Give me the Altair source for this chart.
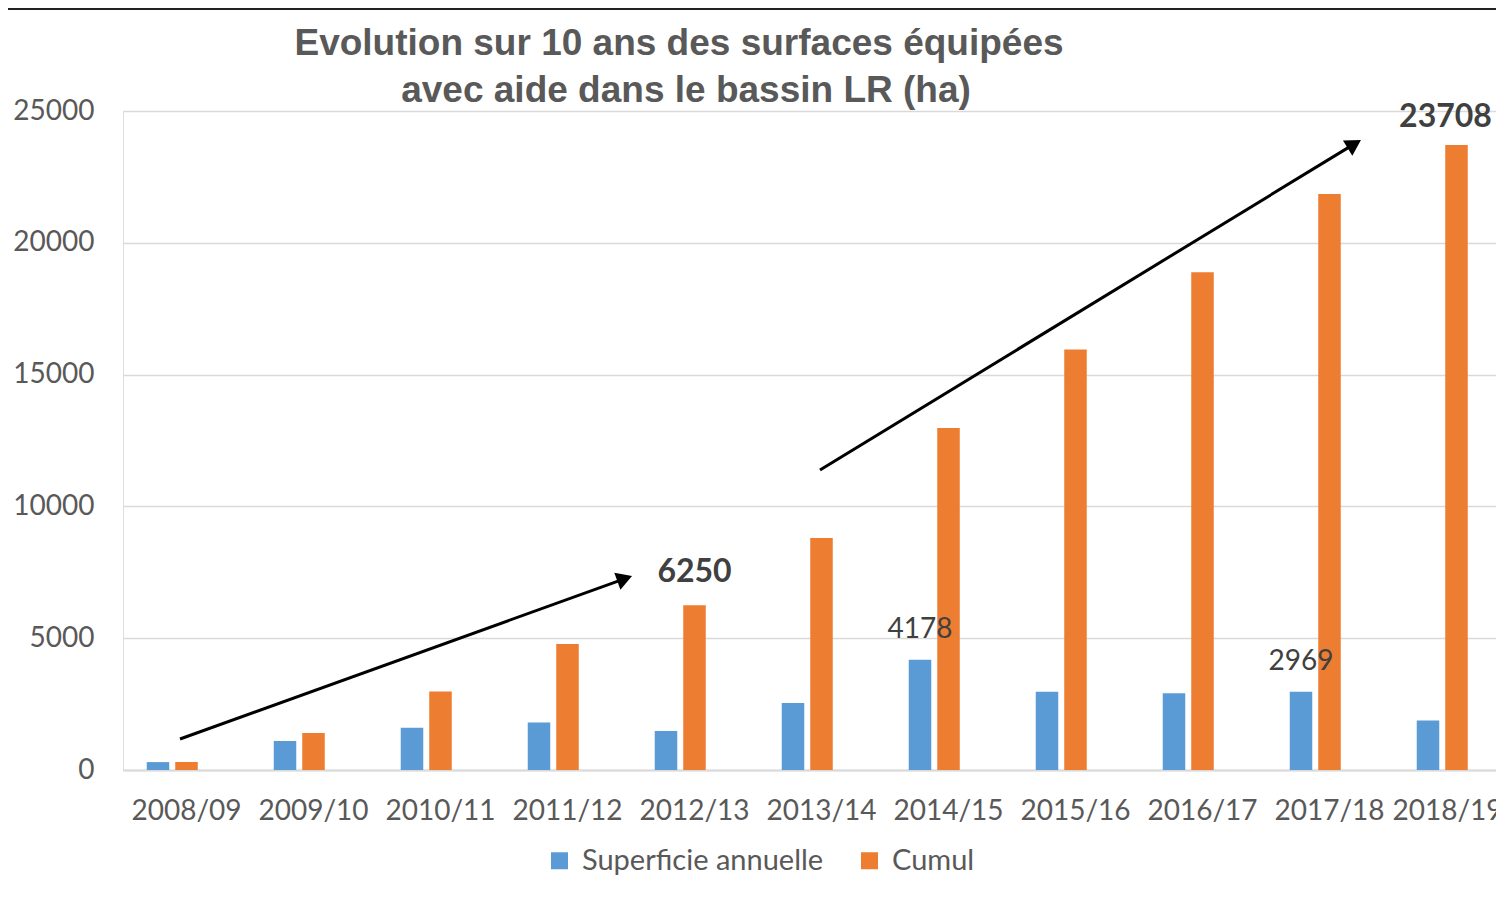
import altair as alt
import pandas as pd

categories = ["2008/09", "2009/10", "2010/11", "2011/12", "2012/13", "2013/14",
              "2014/15", "2015/16", "2016/17", "2017/18", "2018/19"]
annuelle = [300, 1100, 1600, 1800, 1480, 2540, 4178, 2970, 2910, 2969, 1880]
cumul = [300, 1400, 2980, 4780, 6250, 8800, 12978, 15950, 18880, 21850, 23708]
series_names = ["Superficie annuelle", "Cumul"]
colors = ["#5B9BD5", "#ED7D31"]

rows = []
for c, a, k in zip(categories, annuelle, cumul):
    rows.append({"annee": c, "serie": series_names[0], "valeur": a})
    rows.append({"annee": c, "serie": series_names[1], "valeur": k})
df = pd.DataFrame(rows)

# labelled points
lab_plain = pd.DataFrame({
    "annee": ["2014/15", "2017/18"],
    "serie": [series_names[0]] * 2,
    "valeur": [4178, 2969],
    "txt": ["4178", "2969"],
})
lab_bold = pd.DataFrame({
    "annee": ["2012/13"],
    "serie": [series_names[1]],
    "valeur": [6250],
    "txt": ["6250"],
})
lab_bold2 = pd.DataFrame({
    "annee": ["2018/19"],
    "serie": [series_names[1]],
    "valeur": [23708],
    "txt": ["23708"],
})

W, H = 1373, 659
STEP = 127
xscale = alt.Scale(domain=categories, range=[0, STEP * len(categories)],
                   paddingInner=0, paddingOuter=0)
xoff_scale = alt.Scale(domain=series_names + ["_"], paddingInner=0.21, paddingOuter=0.833)
yscale = alt.Scale(domain=[0, 25000], nice=False)

x_enc = alt.X("annee:N", scale=xscale, sort=categories,
              axis=alt.Axis(title=None, labelAngle=0, labelFontSize=28, labelFont="Lato",
                            labelColor="#595959", labelPadding=41, labelBaseline="middle",
                            labelOffset={"condition": {"test": "datum.value == '2018/19'", "value": -9},
                                         "value": 0},
                            ticks=False, tickSize=0, domainColor="#D9D9D9", domainWidth=2,
                            labelOverlap=False, labelFlush=False, labelBound=False, grid=False))
xo_enc = alt.XOffset("serie:N", scale=xoff_scale)
y_enc = alt.Y("valeur:Q", scale=yscale,
              axis=alt.Axis(title=None, values=[0, 5000, 10000, 15000, 20000, 25000], format="d",
                            labelFontSize=28, labelFont="Lato", labelColor="#595959",
                            labelPadding=29, domain=False, ticks=False, tickSize=0,
                            gridColor="#D9D9D9", gridWidth=1.5))

bars = alt.Chart(df).mark_bar(clip=True).encode(
    x=x_enc, xOffset=xo_enc, y=y_enc,
    color=alt.Color("serie:N", scale=alt.Scale(domain=series_names, range=colors),
                    legend=alt.Legend(orient="none", legendX=422, legendY=735,
                                      direction="horizontal", title=None,
                                      symbolType="square", symbolSize=289,
                                      symbolStrokeWidth=0, labelFontSize=29,
                                      labelFont="Lato", labelColor="#595959",
                                      labelLimit=0,
                                      columnPadding=31, labelOffset=8, padding=0)),
)

t_plain = alt.Chart(lab_plain).mark_text(fontSize=28, font="Lato", color="#404040",
                                         baseline="middle", dy=-30).encode(
    x=alt.X("annee:N", scale=xscale, sort=categories), xOffset=xo_enc,
    y=alt.Y("valeur:Q", scale=yscale), text="txt:N")
t_bold = alt.Chart(lab_bold).mark_text(fontSize=32, font="Lato", fontWeight="bold",
                                       color="#404040", baseline="middle", dy=-33).encode(
    x=alt.X("annee:N", scale=xscale, sort=categories), xOffset=xo_enc,
    y=alt.Y("valeur:Q", scale=yscale), text="txt:N")
t_bold2 = alt.Chart(lab_bold2).mark_text(fontSize=32, font="Lato", fontWeight="bold",
                                         color="#404040", baseline="middle", dy=-28,
                                         dx=-11).encode(
    x=alt.X("annee:N", scale=xscale, sort=categories), xOffset=xo_enc,
    y=alt.Y("valeur:Q", scale=yscale), text="txt:N")

one = pd.DataFrame({"k": [0]})

def rule(x1, y1, x2, y2, color="black", width=3):
    return alt.Chart(one).mark_rule(color=color, strokeWidth=width).encode(
        x=alt.value(x1), y=alt.value(y1), x2=alt.value(x2), y2=alt.value(y2))

def head(xc, yc, ang):
    return alt.Chart(one).mark_point(shape="triangle-up", filled=True, color="black",
                                     size=324, opacity=1, angle=ang).encode(
        x=alt.value(xc), y=alt.value(yc))

arrow1 = rule(57, 628, 502, 467.6) + head(501.7, 467.6, 70.2)
arrow2 = rule(697, 359, 1231, 33.1) + head(1231.3, 33.1, 58.6)

top_line = rule(-123, -102, 1400, -102, color="#222222", width=2)

title1 = alt.Chart(one).mark_text(text="Evolution sur 10 ans des surfaces équipées",
                                  fontSize=37, font="Liberation Sans", fontWeight="bold",
                                  color="#595959", align="center", baseline="middle").encode(
    x=alt.value(556), y=alt.value(-67))
title2 = alt.Chart(one).mark_text(text="avec aide dans le bassin LR (ha)",
                                  fontSize=37, font="Liberation Sans", fontWeight="bold",
                                  color="#595959", align="center", baseline="middle").encode(
    x=alt.value(563), y=alt.value(-20))

chart = alt.layer(bars, t_plain, t_bold, t_bold2, arrow1, arrow2, top_line, title1, title2).properties(
    width=W, height=H,
    autosize=alt.AutoSizeParams(type="none"),
    padding={"left": 115, "top": 103, "right": 0, "bottom": 110},
).configure_view(stroke=None).configure(background="white")

chart.save("out.html", embed_options={"renderer": "svg", "actions": False})
